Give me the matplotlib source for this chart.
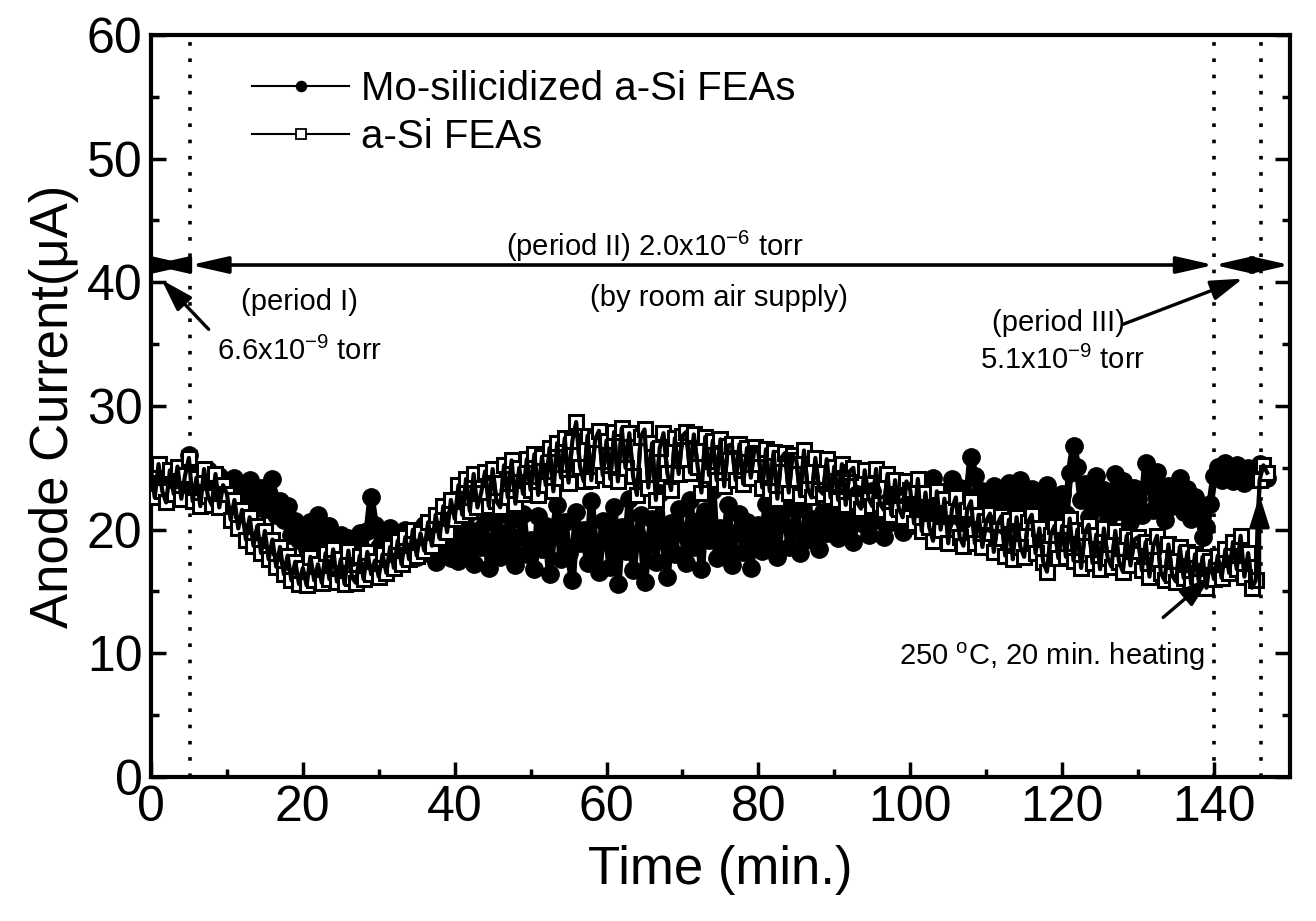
import matplotlib
matplotlib.use("Agg")
import matplotlib.pyplot as plt
import numpy as np

plt.rcParams["font.family"] = ["Liberation Sans", "DejaVu Sans"]
plt.rcParams["mathtext.default"] = "regular"

# sampled every 0.5 min, 0 .. 147 min
time_min = np.arange(295) * 0.5

mo_si_current = [
    24.6, 23.2, 25.1, 23.8, 22.9, 24.4, 23.5, 25.0, 22.8, 24.1, 26.0, 23.3, 24.7, 22.6, 23.9, 24.8, 22.7, 23.6, 24.3, 22.9,
    23.8, 22.4, 24.2, 21.9, 23.1, 22.5, 24.0, 21.6, 22.8, 23.4, 21.7, 22.9, 24.1, 21.2, 22.3, 20.8, 21.9, 19.6, 20.7, 19.2,
    19.8, 18.4, 20.6, 19.1, 21.2, 19.5, 18.7, 20.3, 19.0, 18.2, 19.6, 18.0, 19.3, 17.8, 18.9, 19.7, 18.3, 19.9, 22.6, 20.4,
    18.6, 19.8, 17.9, 20.1, 18.8, 19.4, 17.6, 20.0, 18.5, 19.7, 17.8, 19.2, 20.4, 18.1, 19.5, 17.4, 20.2, 18.7, 19.9, 17.7,
    19.6, 17.5, 20.8, 18.3, 21.4, 17.2, 19.9, 18.6, 20.5, 16.9, 19.1, 21.0, 17.8, 19.7, 18.2, 20.9, 17.1, 19.4, 21.3, 18.0,
    19.2, 16.8, 21.1, 18.4, 20.3, 16.4, 19.8, 22.0, 17.6, 20.6, 18.1, 15.9, 21.4, 18.9, 20.0, 17.3, 22.3, 18.5, 16.6, 20.7,
    19.4, 17.0, 21.8, 15.6, 20.2, 18.3, 22.5, 16.7, 19.6, 21.2, 15.8, 18.8, 20.9, 17.4, 23.0, 19.1, 16.2, 20.5, 18.0, 21.7,
    19.8, 17.3, 22.4, 18.6, 20.7, 16.8, 21.5, 19.2, 23.2, 17.7, 20.1, 18.4, 22.0, 17.1, 19.7, 21.3, 18.2, 20.6, 16.9, 19.9,
    20.4, 18.3, 22.1, 19.0, 21.2, 17.8, 20.7, 22.5, 18.6, 20.0, 21.6, 18.1, 19.5, 22.8, 19.2, 20.9, 18.4, 21.4, 19.7, 20.3,
    21.0, 19.3, 22.6, 20.2, 21.8, 19.0, 22.9, 20.5, 21.4, 19.6, 23.1, 20.8, 21.7, 19.4, 22.2, 20.6, 23.4, 21.1, 19.8, 22.0,
    22.3, 20.4, 23.6, 21.5, 22.8, 20.9, 24.2, 21.8, 23.0, 20.6, 22.5, 24.1, 21.2, 23.4, 20.8, 22.7, 25.9, 24.3, 21.6, 23.1,
    22.0, 20.5, 23.5, 21.7, 22.9, 20.3, 23.8, 21.4, 22.6, 24.0, 20.9, 22.2, 23.3, 21.1, 22.8, 20.7, 23.6, 21.9, 22.4, 20.8,
    22.9, 21.3, 24.6, 26.8, 25.1, 22.4, 23.7, 21.0, 22.6, 24.3, 21.8, 23.2, 20.9, 22.7, 24.5, 21.5, 23.9, 22.1, 20.6, 23.4,
    22.5, 21.2, 25.4, 23.8, 21.6, 24.7, 22.3, 20.8, 23.5, 21.9, 22.8, 24.2, 21.4, 23.3, 20.9, 22.6, 21.3, 19.4, 20.2, 22.1,
    24.3, 25.1, 24.0, 25.4, 24.6, 23.9, 25.2, 24.4, 23.8, 25.0, 24.7, 24.1, 25.3, 24.5, 24.2,
]

a_si_current = [
    24.9, 22.6, 25.3, 23.1, 22.2, 24.8, 22.9, 25.1, 22.5, 24.4, 25.8, 22.3, 24.2, 21.9, 24.9, 22.7, 22.0, 24.5, 21.8, 23.6,
    22.9, 20.8, 22.4, 20.1, 21.6, 19.2, 21.0, 18.7, 20.3, 18.1, 19.9, 17.6, 19.2, 17.0, 18.6, 16.4, 17.9, 15.9, 17.4, 15.6,
    16.9, 15.5, 17.8, 15.9, 17.2, 15.7, 18.1, 16.0, 18.4, 15.8, 17.6, 15.6, 18.3, 16.1, 15.7, 17.9, 16.0, 18.2, 16.4, 17.5,
    16.2, 18.0, 16.5, 18.6, 16.9, 19.1, 17.2, 19.4, 17.6, 20.0, 17.9, 19.7, 18.3, 20.6, 18.7, 21.2, 19.3, 21.9, 19.8, 22.4,
    20.9, 23.6, 21.2, 24.1, 21.5, 24.5, 21.8, 23.0, 24.7, 21.9, 24.9, 22.3, 21.8, 25.2, 22.6, 25.6, 22.1, 25.0, 22.9, 25.7,
    23.2, 26.1, 22.8, 25.9, 23.6, 26.6, 23.1, 27.0, 24.2, 27.4, 23.8, 27.2, 28.7, 25.1, 23.9, 27.6, 24.0, 27.3, 28.0, 24.4,
    27.2, 24.1, 27.9, 23.9, 28.2, 25.0, 27.8, 24.3, 22.8, 27.5, 28.1, 23.4, 27.0, 22.4, 26.6, 27.8, 24.6, 23.2, 27.4, 24.5,
    27.6, 27.9, 24.6, 27.7, 25.1, 23.0, 27.5, 24.4, 27.2, 24.0, 27.3, 23.5, 26.8, 26.9, 24.0, 26.9, 23.7, 26.6, 24.2, 26.7,
    26.2, 23.4, 26.5, 23.1, 26.3, 22.5, 25.8, 26.2, 23.0, 26.0, 25.6, 22.7, 26.4, 23.3, 22.6, 25.8, 23.2, 22.9, 25.7, 22.6,
    25.1, 22.4, 25.3, 22.0, 24.7, 25.0, 22.2, 21.7, 24.8, 22.5, 21.9, 24.9, 22.1, 21.6, 24.5, 21.2, 24.0, 21.7, 21.0, 23.9,
    23.2, 20.5, 24.1, 19.9, 23.0, 20.2, 19.1, 23.1, 20.0, 22.5, 18.9, 21.7, 22.6, 19.4, 18.7, 21.6, 22.3, 18.9, 21.2, 18.6,
    20.7, 21.3, 18.2, 20.5, 21.1, 17.9, 20.8, 17.6, 21.0, 18.6, 17.8, 20.6, 21.2, 18.1, 20.1, 17.4, 16.6, 19.6, 20.3, 17.7,
    20.3, 17.8, 20.9, 17.5, 20.0, 16.9, 19.8, 20.4, 17.3, 19.6, 16.8, 20.1, 17.7, 17.0, 19.9, 17.4, 16.6, 19.5, 17.1, 19.2,
    19.4, 16.7, 19.0, 16.2, 18.7, 19.5, 16.5, 15.9, 18.8, 16.3, 15.8, 18.6, 16.1, 18.2, 15.6, 18.0, 15.8, 17.8, 15.3, 17.5,
    16.0, 17.9, 16.1, 18.4, 16.5, 19.0, 16.8, 19.5, 16.2, 18.1, 15.3, 15.9, 24.0, 25.2, 24.6,
]

# vertical markers between pressure periods (min) and the arrow spans
period_marks = [5.2, 140.0, 146.2]
arrow_spans = [(0, 5.2), (5.2, 140.0), (140.0, 150)]
arrow_level = 41.4

fig = plt.figure(figsize=(13.16, 9.21), dpi=100)
ax = fig.add_axes([0.1147, 0.1564, 0.8655, 0.8056])

ax.plot(time_min, mo_si_current, "-o", color="black", lw=5.5, ms=12.5,
        mfc="black", mec="black", label="Mo-silicidized a-Si FEAs", zorder=2)
ax.plot(time_min, a_si_current, "-s", color="black", lw=3.0, ms=9.5,
        mfc="white", mec="black", mew=2.2, label="a-Si FEAs", zorder=3)
# the connecting trace runs over the open squares in the scan, so redraw it on top
ax.plot(time_min, a_si_current, "-", color="black", lw=3.0, zorder=4)

for x in period_marks:
    ax.axvline(x, color="black", ls=(0, (1, 3.5)), lw=2.6, zorder=1)

head = "<|-|>,head_length=0.75,head_width=0.17"
for x0, x1 in arrow_spans:
    ax.annotate("", xy=(x1, arrow_level), xytext=(x0, arrow_level),
                arrowprops=dict(arrowstyle=head, lw=2.6, color="black",
                                mutation_scale=30, shrinkA=0, shrinkB=0))

one_head = dict(arrowstyle="-|>,head_length=0.7,head_width=0.22", lw=2.4,
                color="black", mutation_scale=28, shrinkA=0, shrinkB=0)

txt = dict(fontsize=21, ha="center", va="center")
ax.text(19.6, 38.4, "(period I)", **txt)
ax.text(19.6, 34.4, "6.6x10$^{-9}$ torr", **txt)
ax.annotate("", xy=(1.4, 40.2), xytext=(7.6, 36.2), arrowprops=one_head)

ax.text(66.3, 42.9, "(period II) 2.0x10$^{-6}$ torr", **txt)
ax.text(74.8, 38.7, "(by room air supply)", **txt)

ax.text(119.5, 36.7, "(period III)", **txt)
ax.text(120.0, 33.7, "5.1x10$^{-9}$ torr", **txt)
ax.annotate("", xy=(143.8, 40.3), xytext=(128.0, 36.6), arrowprops=one_head)

ax.text(118.7, 9.7, "250 $^{o}$C, 20 min. heating", **txt)
ax.annotate("", xy=(139.6, 16.2), xytext=(133.3, 12.9), arrowprops=one_head)
ax.annotate("", xy=(146.0, 22.8), xytext=(146.0, 15.5), arrowprops=one_head)

ax.set_xlim(0, 150)
ax.set_ylim(0, 60)
ax.set_xticks(np.arange(0, 141, 20))
ax.set_xticks(np.arange(10, 150, 20), minor=True)
ax.set_yticks(np.arange(0, 61, 10))
ax.set_yticks(np.arange(5, 60, 10), minor=True)
ax.tick_params(which="both", direction="in", right=True, top=False, width=2.5)
ax.tick_params(which="major", length=11, labelsize=36, pad=6)
ax.tick_params(which="minor", length=6)
for side in ax.spines.values():
    side.set_linewidth(3)

ax.set_xlabel("Time (min.)", fontsize=38, labelpad=10)
ax.set_ylabel("Anode Current(\u03bcA)", fontsize=38, labelpad=6)

leg = ax.legend(loc="upper left", bbox_to_anchor=(0.075, 0.975), frameon=False,
                fontsize=29, handlelength=2.4, handletextpad=0.3, labelspacing=0.25,
                borderaxespad=0, numpoints=1)
# legend samples in the original are drawn thin, not like the dense data band
for line in leg.get_lines():
    line.set_linewidth(1.5)
    line.set_markersize(7)
    line.set_markeredgewidth(1.3)

fig.savefig("out.png", dpi=100)
